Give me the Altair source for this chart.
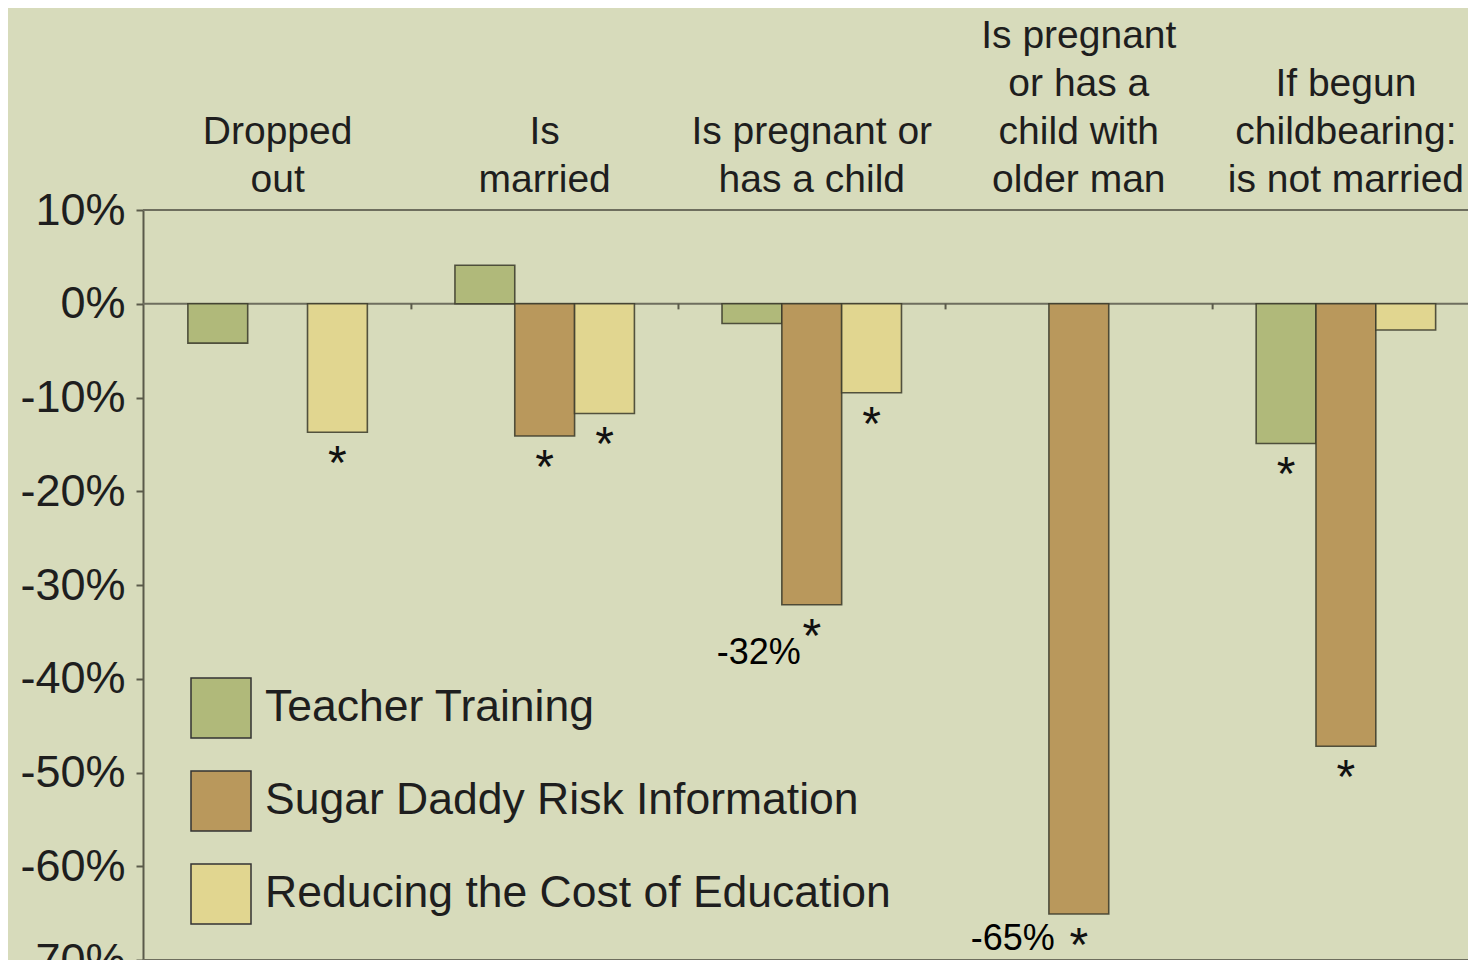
import altair as alt
import pandas as pd

groups = [
    "Dropped out",
    "Is married",
    "Is pregnant or has a child",
    "Is pregnant or has a child with older man",
    "If begun childbearing: is not married",
]
headers = [
    ["Dropped", "out"],
    ["Is", "married"],
    ["Is pregnant or", "has a child"],
    ["Is pregnant", "or has a", "child with", "older man"],
    ["If begun", "childbearing:", "is not married"],
]
series = ["Teacher Training", "Sugar Daddy Risk Information", "Reducing the Cost of Education"]
colors = ["#b0b97a", "#b9985c", "#e1d690"]

teacher = [-4.2, 4.1, -2.1, None, -14.9]
sugar = [None, -14.1, -32.1, -65.1, -47.2]
cost = [-13.7, -11.7, -9.5, None, -2.8]

teacher_sig = [False, False, False, False, True]
sugar_sig = [False, True, True, True, True]
cost_sig = [True, True, True, False, False]

sugar_labels = ["", "", "-32%", "-65%", ""]
y_ticks = [10, 0, -10, -20, -30, -40, -50, -60, -70]
frame_lines = [10, 0, -70]

rows = []
for s, vals, sigs in zip(series, [teacher, sugar, cost], [teacher_sig, sugar_sig, cost_sig]):
    for i, g in enumerate(groups):
        if vals[i] is None:
            continue
        lab = sugar_labels[i] if s == series[1] else ""
        rows.append({"group": g, "series": s, "value": vals[i], "sig": sigs[i], "label": lab})
df = pd.DataFrame(rows)

# one row per header line, counted from the bottom line (k = 0)
head_rows = []
for g, lines_ in zip(groups, headers):
    for k, t in enumerate(reversed(lines_)):
        head_rows.append({"group": g, "text": t, "k": k, "top": 10})
head_df = pd.DataFrame(head_rows)

FONT = "Liberation Sans"
TXT = "#1e1e1e"

x_scale = alt.Scale(domain=groups, range=[0, 1337.5], paddingInner=0.328, paddingOuter=0.168)
x_enc = alt.X("group:N", sort=groups, scale=x_scale, axis=None)
xo_enc = alt.XOffset("series:N", sort=series, scale=alt.Scale(domain=series))
y_scale = alt.Scale(domain=[-70, 10], nice=False, zero=False)
y_axis = alt.Axis(
    values=y_ticks, labelExpr="datum.value + '%'", title=None, grid=False,
    labelFontSize=45, labelFont=FONT, labelColor=TXT, labelPadding=11,
    tickSize=7, tickWidth=2, tickColor="#5a5a4a", domainColor="#5a5a4a", domainWidth=2,
)
y_enc = alt.Y("value:Q", scale=y_scale, axis=y_axis)

bars = alt.Chart(df).mark_bar(stroke="#3a3a2a", strokeWidth=1.6, strokeOpacity=0.85).encode(
    x=x_enc,
    xOffset=xo_enc,
    y=y_enc,
    y2=alt.datum(0),
    color=alt.Color(
        "series:N",
        sort=series,
        scale=alt.Scale(domain=series, range=colors),
        legend=alt.Legend(
            title=None, orient="none", legendX=47, legendY=467,
            symbolType="square", symbolSize=3600, symbolStrokeColor="#333",
            symbolStrokeWidth=1.5, symbolOpacity=1,
            labelFontSize=44.5, labelFont=FONT, labelColor=TXT,
            labelOffset=13, rowPadding=27, padding=0, labelLimit=900,
        ),
    ),
)

stars = alt.Chart(df).transform_filter("datum.sig").mark_text(
    text="*", baseline="top", dy=9, fontSize=48, font=FONT, color="#111"
).encode(x=x_enc, xOffset=xo_enc, y=y_enc)

lab32 = alt.Chart(df).transform_filter("datum.label == '-32%'").mark_text(
    align="right", baseline="middle", dx=-11, dy=48, fontSize=36, font=FONT, color="#000"
).encode(x=x_enc, xOffset=xo_enc, y=y_enc, text="label:N")

lab65 = alt.Chart(df).transform_filter("datum.label == '-65%'").mark_text(
    align="right", baseline="middle", dx=-24, dy=25, fontSize=36, font=FONT, color="#000"
).encode(x=x_enc, xOffset=xo_enc, y=y_enc, text="label:N")

head_layers = []
for k in range(4):
    head_layers.append(
        alt.Chart(head_df).transform_filter(f"datum.k == {k}").mark_text(
            align="center", baseline="alphabetic", dy=-18 - 48 * k,
            fontSize=39, font=FONT, color=TXT,
        ).encode(x=x_enc, y=alt.Y("top:Q", scale=y_scale, axis=y_axis), text="text:N")
    )

lines_df = pd.DataFrame({"y": frame_lines})
lines = alt.Chart(lines_df).mark_rule(color="#6e6e5e", strokeWidth=2).encode(
    y=alt.Y("y:Q", scale=y_scale, axis=y_axis), x=alt.value(0), x2=alt.value(1341)
)

ticks_df = pd.DataFrame({"group": groups[:4], "top": [0] * 4, "bot": [-0.6] * 4})
sep_ticks = alt.Chart(ticks_df).mark_rule(color="#5a5a4a", strokeWidth=2, xOffset=133.8).encode(
    x=x_enc, y=alt.Y("top:Q", scale=y_scale, axis=y_axis), y2="bot:Q"
)

chart = (
    alt.layer(lines, sep_ticks, bars, stars, lab32, lab65, *head_layers)
    .properties(
        width=1325, height=750,
        autosize=alt.AutoSizeParams(type="none"),
        padding={"left": 135, "top": 202, "right": 0, "bottom": 0},
        background="#d7dbbb",
    )
    .configure_view(stroke=None)
)

chart.save("out.html", embed_options={"renderer": "svg", "actions": False})
